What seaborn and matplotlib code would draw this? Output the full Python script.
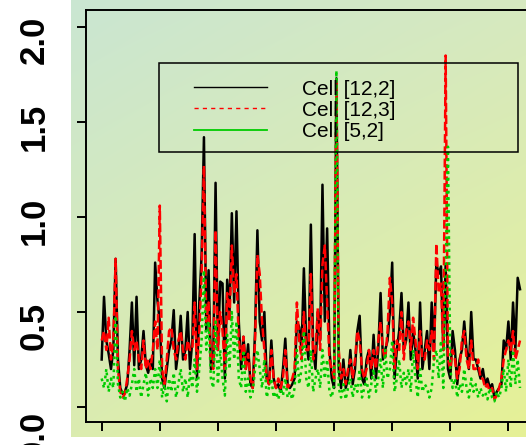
import numpy as np
import pandas as pd
import matplotlib
matplotlib.use("Agg")
import matplotlib.pyplot as plt
import matplotlib.transforms as mtransforms
from matplotlib.patches import Rectangle
import seaborn as sns

# ---------------- data ----------------
series_names = ["Cell [12,2]", "Cell [12,3]", "Cell [5,2]"]
x_ticks = [0, 50, 100, 150, 200, 250, 300, 350]
y_ticks = [0.0, 0.5, 1.0, 1.5, 2.0]
y_tick_labels = ["0.0", "0.5", "1.0", "1.5", "2.0"]

cell_12_2 = [
    0.25, 0.58, 0.35, 0.28, 0.20, 0.30, 0.78, 0.25, 0.10, 0.07,
    0.08, 0.12, 0.30, 0.55, 0.22, 0.58, 0.20, 0.25, 0.40, 0.22,
    0.18, 0.25, 0.20, 0.76, 0.56, 0.45, 0.15, 0.10, 0.20, 0.30,
    0.35, 0.51, 0.20, 0.30, 0.48, 0.25, 0.30, 0.50, 0.20, 0.35,
    0.91, 0.15, 0.55, 0.80, 1.42, 0.40, 0.72, 0.20, 0.22, 1.18,
    0.30, 0.66, 0.65, 0.15, 0.67, 0.50, 1.02, 0.55, 1.03, 0.45,
    0.20, 0.37, 0.20, 0.33, 0.12, 0.10, 0.40, 0.93, 0.45, 0.35,
    0.50, 0.15, 0.12, 0.35, 0.15, 0.10, 0.12, 0.08, 0.20, 0.36,
    0.12, 0.10, 0.12, 0.15, 0.45, 0.42, 0.30, 0.73, 0.35, 0.25,
    0.96, 0.30, 0.20, 0.50, 0.35, 1.17, 0.45, 0.94, 0.30, 0.15,
    0.10, 1.73, 0.20, 0.10, 0.25, 0.10, 0.15, 0.30, 0.12, 0.20,
    0.40, 0.48, 0.15, 0.12, 0.25, 0.30, 0.15, 0.38, 0.15, 0.30,
    0.60, 0.25, 0.30, 0.35, 0.50, 0.76, 0.15, 0.30, 0.40, 0.60,
    0.30, 0.35, 0.55, 0.25, 0.40, 0.30, 0.15, 0.55, 0.20, 0.30,
    0.40, 0.20, 0.55, 0.30, 0.76, 0.70, 0.74, 0.30, 0.75, 0.20,
    0.15, 0.40, 0.30, 0.12, 0.25, 0.30, 0.45, 0.30, 0.20, 0.50,
    0.25, 0.25, 0.20, 0.15, 0.20, 0.12, 0.15, 0.10, 0.12, 0.05,
    0.08, 0.10, 0.12, 0.35, 0.30, 0.45, 0.25, 0.55, 0.30, 0.68,
    0.62,
]
cell_12_3 = [
    0.35, 0.40, 0.30, 0.47, 0.25, 0.35, 0.78, 0.20, 0.08, 0.05,
    0.07, 0.15, 0.25, 0.40, 0.30, 0.35, 0.25, 0.20, 0.35, 0.20,
    0.25, 0.20, 0.30, 0.45, 0.30, 1.06, 0.20, 0.12, 0.25, 0.40,
    0.42, 0.30, 0.25, 0.35, 0.40, 0.30, 0.25, 0.35, 0.30, 0.30,
    0.55, 0.20, 0.40, 0.70, 1.27, 0.45, 0.55, 0.25, 0.20, 0.93,
    0.30, 0.50, 0.40, 0.20, 0.60, 0.45, 0.85, 0.60, 0.70, 0.35,
    0.25, 0.37, 0.20, 0.28, 0.15, 0.10, 0.35, 0.80, 0.70, 0.45,
    0.30, 0.15, 0.12, 0.30, 0.15, 0.10, 0.15, 0.10, 0.15, 0.30,
    0.10, 0.12, 0.15, 0.20, 0.55, 0.35, 0.25, 0.50, 0.30, 0.30,
    0.70, 0.25, 0.30, 0.52, 0.30, 0.75, 0.85, 0.55, 0.25, 0.20,
    0.15, 1.72, 0.30, 0.15, 0.20, 0.12, 0.20, 0.25, 0.15, 0.25,
    0.40, 0.35, 0.20, 0.15, 0.20, 0.30, 0.20, 0.30, 0.20, 0.35,
    0.45, 0.30, 0.25, 0.40, 0.68, 0.55, 0.20, 0.35, 0.30, 0.50,
    0.25, 0.40, 0.45, 0.30, 0.47, 0.35, 0.20, 0.40, 0.25, 0.25,
    0.35, 0.30, 0.40, 0.25, 0.86, 0.60, 0.65, 0.30, 1.85, 0.25,
    0.20, 0.30, 0.25, 0.15, 0.20, 0.35, 0.40, 0.25, 0.20, 0.35,
    0.20, 0.20, 0.25, 0.15, 0.15, 0.10, 0.12, 0.08, 0.10, 0.04,
    0.06, 0.10, 0.15, 0.25, 0.30, 0.35, 0.30, 0.40, 0.25, 0.30,
    0.35,
]
cell_5_2 = [
    0.15, 0.10, 0.20, 0.08, 0.15, 0.10, 0.48, 0.12, 0.05, 0.08,
    0.03, 0.10, 0.06, 0.12, 0.20, 0.08, 0.15, 0.05, 0.12, 0.18,
    0.06, 0.15, 0.10, 0.20, 0.10, 0.25, 0.05, 0.12, 0.03, 0.15,
    0.08, 0.18, 0.05, 0.12, 0.20, 0.08, 0.15, 0.05, 0.18, 0.10,
    0.25, 0.08, 0.20, 0.35, 0.72, 0.30, 0.45, 0.15, 0.10, 0.45,
    0.12, 0.30, 0.15, 0.06, 0.38, 0.20, 0.50, 0.25, 0.45, 0.15,
    0.10, 0.30, 0.08, 0.15, 0.05, 0.08, 0.20, 0.30, 0.20, 0.10,
    0.25, 0.05, 0.10, 0.15, 0.05, 0.08, 0.04, 0.10, 0.06, 0.15,
    0.05, 0.08, 0.04, 0.10, 0.30, 0.12, 0.20, 0.40, 0.15, 0.10,
    0.30, 0.08, 0.15, 0.20, 0.10, 0.30, 0.15, 0.25, 0.08, 0.05,
    0.12, 1.77, 0.10, 0.05, 0.12, 0.04, 0.10, 0.15, 0.05, 0.12,
    0.08, 0.20, 0.05, 0.10, 0.15, 0.05, 0.12, 0.20, 0.08, 0.15,
    0.25, 0.10, 0.30, 0.15, 0.20, 0.35, 0.08, 0.15, 0.25, 0.10,
    0.18, 0.12, 0.20, 0.08, 0.30, 0.15, 0.05, 0.20, 0.08, 0.12,
    0.10, 0.05, 0.10, 0.25, 0.30, 0.15, 0.35, 0.10, 0.70, 1.37,
    0.20, 0.10, 0.15, 0.05, 0.12, 0.08, 0.20, 0.10, 0.05, 0.15,
    0.08, 0.12, 0.05, 0.10, 0.06, 0.08, 0.04, 0.10, 0.05, 0.03,
    0.08, 0.05, 0.10, 0.20, 0.08, 0.25, 0.10, 0.30, 0.12, 0.25,
    0.10,
]
time_index = np.arange(len(cell_12_2)) * 2

# ---------------- figure ----------------
W, H, DPI = 526, 445, 100
plt.rcParams["font.family"] = ["Liberation Sans", "DejaVu Sans"]
fig = plt.figure(figsize=(W / DPI, H / DPI), dpi=DPI, facecolor="white")

# gradient background (R-style panel)
bg = fig.add_axes([71 / W, (H - 437) / H, (W - 71) / W, 437 / H], zorder=-10)
tl = np.array([202, 230, 210]) / 255
tr = np.array([214, 233, 192]) / 255
bl = np.array([219, 236, 176]) / 255
br = np.array([230, 241, 150]) / 255
u = np.linspace(0, 1, 200)[None, :, None]
v = np.linspace(0, 1, 200)[:, None, None]
grad = (1 - v) * ((1 - u) * tl + u * tr) + v * ((1 - u) * bl + u * br)
bg.imshow(grad, aspect="auto", extent=[0, 1, 0, 1], interpolation="bilinear")
bg.axis("off")

ax = fig.add_axes([86 / W, (H - 422) / H, (540 - 86) / W, 412 / H])
ax.set_facecolor("none")

df = pd.DataFrame({"t": time_index, "a": cell_12_2, "b": cell_12_3, "c": cell_5_2})
lw = 1.8
sns.lineplot(data=df, x="t", y="a", ax=ax, color="black", linewidth=lw,
             label=series_names[0], errorbar=None, legend=False)
sns.lineplot(data=df, x="t", y="b", ax=ax, color="#ff0000", linewidth=lw,
             linestyle=(0, (3.5, 1.4)), label=series_names[1], errorbar=None, legend=False)
sns.lineplot(data=df, x="t", y="c", ax=ax, color="#00cc00", linewidth=lw,
             linestyle=(0, (1.1, 1.5)), label=series_names[2], errorbar=None, legend=False)

ax.set_xlim(-13.5, 377.2)
ax.set_ylim(-0.0789, 2.0895)
ax.set_xlabel("")
ax.set_ylabel("")
ax.set_xticks(x_ticks)
ax.set_xticklabels([""] * len(x_ticks))
ax.set_yticks(y_ticks)
ax.set_yticklabels(y_tick_labels, rotation=90, va="center",
                   fontsize=25, fontweight="bold")
ax.tick_params(axis="both", direction="out", length=6.5, width=1.4, color="black")
ax.tick_params(axis="y", pad=19)
for s in ax.spines.values():
    s.set_linewidth(1.4)
    s.set_color("black")

# R's label placement drifts per label: shift each a little downward
label_shift_px = [28, 14, 4, 5, 13]
for lab, dpx in zip(ax.get_yticklabels(), label_shift_px):
    off = mtransforms.ScaledTranslation(0, -dpx / DPI, fig.dpi_scale_trans)
    lab.set_transform(lab.get_transform() + off)

# legend
leg = ax.legend(loc="upper left", bbox_to_anchor=(0.2379, 0.831),
                frameon=False, fontsize=15, handlelength=3.5,
                handletextpad=1.68, labelspacing=0.1, borderpad=0.0,
                borderaxespad=0.0)
for h in leg.legend_handles:
    h.set_linewidth(1.0)
leg.legend_handles[1].set_linestyle((0, (3, 3)))
leg.legend_handles[2].set_linestyle("-")
leg.legend_handles[2].set_linewidth(1.3)
ax.add_patch(Rectangle((0.1608, 0.6553), 0.9515 - 0.1608, 0.8714 - 0.6553,
                       transform=ax.transAxes, fill=False, edgecolor="black",
                       linewidth=1.1, clip_on=False, zorder=5))

fig.savefig("out.png", dpi=DPI, facecolor="white")
